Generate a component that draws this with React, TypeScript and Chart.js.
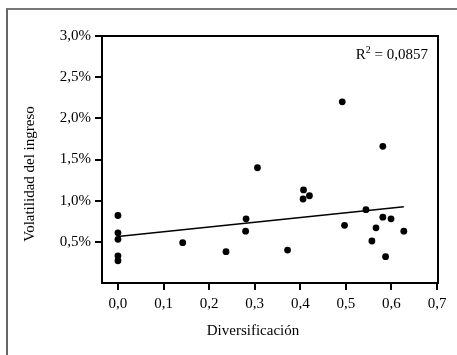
import { useEffect, useRef } from 'react';
import { Chart, registerables } from 'chart.js';

Chart.register(...registerables);

// Data
const diversificacion = [0, 0, 0, 0, 0, 0.142, 0.237, 0.28, 0.281, 0.306, 0.372, 0.406, 0.407, 0.42, 0.492, 0.497, 0.544, 0.557, 0.566, 0.581, 0.581, 0.587, 0.599, 0.627];
const volatilidad = [0.82, 0.61, 0.53, 0.33, 0.27, 0.49, 0.38, 0.63, 0.78, 1.4, 0.4, 1.02, 1.13, 1.06, 2.2, 0.7, 0.89, 0.51, 0.67, 1.66, 0.8, 0.32, 0.78, 0.63];
const trendX = [0, 0.627];
const trendY = [0.565, 0.925];
const xTicks = [0, 0.1, 0.2, 0.3, 0.4, 0.5, 0.6, 0.7];
const yTicks = [0.5, 1.0, 1.5, 2.0, 2.5, 3.0];
const rSquared = '0,0857';
const xTitle = 'Diversificación';
const yTitle = 'Volatilidad del ingreso';

const FONT = '"Liberation Serif", "DejaVu Serif", serif';
const fmt = (v: number) => v.toFixed(1).replace('.', ',');

const framePlugin = {
  id: 'frame',
  afterDraw(chart: any) {
    const { ctx, chartArea } = chart;
    const { left, top, right, bottom } = chartArea;
    ctx.save();
    ctx.strokeStyle = '#000';
    ctx.lineWidth = 2;
    ctx.strokeRect(left, top, right - left, bottom - top);

    ctx.fillStyle = '#000';
    // R² label
    ctx.font = `15px ${FONT}`;
    ctx.textBaseline = 'alphabetic';
    const rest = ' = ' + rSquared;
    const wRest = ctx.measureText(rest).width;
    const wR = ctx.measureText('R').width;
    ctx.font = `10px ${FONT}`;
    const w2 = ctx.measureText('2').width;
    const endX = right - 10;
    const baseY = top + 23;
    const startX = endX - wRest - w2 - wR;
    ctx.font = `15px ${FONT}`;
    ctx.textAlign = 'left';
    ctx.fillText('R', startX, baseY);
    ctx.font = `10px ${FONT}`;
    ctx.fillText('2', startX + wR, baseY - 6);
    ctx.font = `15px ${FONT}`;
    ctx.fillText(rest, startX + wR + w2, baseY);

    // Axis titles
    ctx.textAlign = 'center';
    ctx.textBaseline = 'middle';
    ctx.font = `15px ${FONT}`;
    ctx.fillText(xTitle, 253, 331);
    ctx.translate(30, 174);
    ctx.rotate(-Math.PI / 2);
    ctx.fillText(yTitle, 0, 0);
    ctx.restore();
  },
};

export default function App() {
  const ref = useRef<HTMLCanvasElement | null>(null);

  useEffect(() => {
    if (!ref.current) return;
    const chart = new Chart(ref.current, {
      type: 'scatter',
      data: {
        datasets: [
          {
            type: 'line',
            data: trendX.map((x, i) => ({ x, y: trendY[i] })),
            borderColor: '#000',
            borderWidth: 1.5,
            pointRadius: 0,
            fill: false,
          } as any,
          {
            data: diversificacion.map((x, i) => ({ x, y: volatilidad[i] })),
            backgroundColor: '#000',
            borderColor: '#000',
            pointRadius: 3.4,
            pointBorderWidth: 0,
          },
        ],
      },
      options: {
        animation: false,
        responsive: false,
        maintainAspectRatio: false,
        layout: { padding: { top: 36, right: 19, left: 0, bottom: 0 } },
        plugins: {
          legend: { display: false },
          tooltip: { enabled: false },
          title: { display: false },
        },
        scales: {
          x: {
            type: 'linear',
            min: -0.035,
            max: 0.702,
            afterBuildTicks: (scale: any) => {
              scale.ticks = xTicks.map((v) => ({ value: v }));
            },
            afterFit: (scale: any) => {
              scale.height = 72;
            },
            border: { display: false },
            grid: {
              drawOnChartArea: false,
              drawTicks: true,
              tickLength: 7,
              color: '#000',
              lineWidth: 2,
            },
            ticks: {
              padding: 5,
              color: '#000',
              font: { family: FONT, size: 15 },
              callback: (v: any) => fmt(Number(v)),
              maxRotation: 0,
              autoSkip: false,
            },
          },
          y: {
            type: 'linear',
            min: 0,
            max: 3.0,
            afterBuildTicks: (scale: any) => {
              scale.ticks = yTicks.map((v) => ({ value: v }));
            },
            afterFit: (scale: any) => {
              scale.width = 102;
            },
            border: { display: false },
            grid: {
              drawOnChartArea: false,
              drawTicks: true,
              tickLength: 7,
              color: '#000',
              lineWidth: 2,
            },
            ticks: {
              padding: 4,
              color: '#000',
              font: { family: FONT, size: 15 },
              callback: (v: any) => fmt(Number(v)) + '%',
              autoSkip: false,
            },
          },
        },
      },
      plugins: [framePlugin],
    });
    return () => chart.destroy();
  }, []);

  return (
    <div style={{ position: 'fixed', left: 0, top: 0, width: 457, height: 355, overflow: 'hidden', background: '#fff' }}>
      <div
        style={{
          position: 'absolute',
          left: 6,
          top: 8,
          width: 600,
          height: 500,
          borderTop: '2px solid #777',
          borderLeft: '2px solid #666',
        }}
      />
      <canvas ref={ref} width={457} height={355} style={{ position: 'absolute', left: 0, top: 0, width: 457, height: 355 }} />
    </div>
  );
}
